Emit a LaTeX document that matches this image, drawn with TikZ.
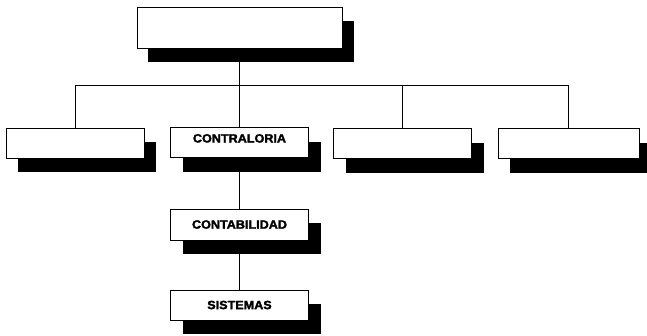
\documentclass[tikz,border=0pt]{standalone}
\usepackage{fontspec}
\newfontfamily\boxfont{Liberation Sans}[FakeStretch=1.05,FakeBold=2]
\usetikzlibrary{shadows}
\begin{document}
\begin{tikzpicture}[x=1pt,y=-1pt,
  orgbox/.style={draw=black, fill=white, line width=0.8pt, rectangle,
    minimum width=138pt, minimum height=30pt, inner sep=0pt,
    font=\boxfont\bfseries\fontsize{12}{13}\selectfont,
    drop shadow={shadow xshift=12pt, shadow yshift=-14pt, fill=black, opacity=1}},
  link/.style={draw=black, line width=0.8pt}]
  \useasboundingbox (0,0) rectangle (647,335);
  \clip (0,0) rectangle (647,335);

  % head of the chart
  \node[orgbox, minimum width=205pt, minimum height=41pt,
        drop shadow={shadow xshift=11pt, shadow yshift=-14pt, fill=black, opacity=1}]
        (top) at (239.5,27.5) {};

  % second level
  \node[orgbox] (b1) at (75,143) {};
  \node[orgbox] (b2) at (239.5,142.5) {\raisebox{0pt}[0pt][0pt]{CONTRALORIA}};
  \node[orgbox] (b3) at (402.5,143.5) {};
  \node[orgbox, minimum width=141pt] (b4) at (568.5,143.5) {};

  % under the comptroller
  \node[orgbox, minimum height=31pt] (b5) at (239.5,224.5) {CONTABILIDAD};
  \node[orgbox] (b6) at (239.5,305) {SISTEMAS};

  % connectors
  \coordinate (bar) at (0,85);
  \draw[link] (top.south) -- (top.south |- bar);
  \draw[link] (b1.north) -- (b1.north |- bar) -- (b4.north |- bar) -- (b4.north);
  \draw[link] (b2.north) -- (b2.north |- bar);
  \draw[link] (b3.north) -- (b3.north |- bar);
  \draw[link] (b2.south) -- (b5.north);
  \draw[link] (b5.south) -- (b6.north);
\end{tikzpicture}
\end{document}
